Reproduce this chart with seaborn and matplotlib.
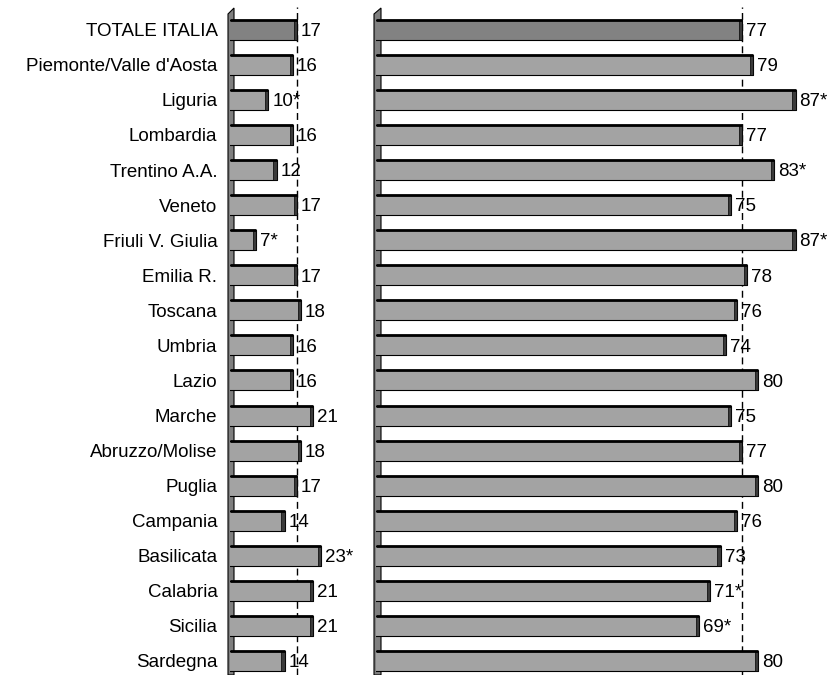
import seaborn as sns
import matplotlib.pyplot as plt
import numpy as np
from matplotlib.patches import Polygon

regioni = ["TOTALE ITALIA", "Piemonte/Valle d'Aosta", "Liguria", "Lombardia",
           "Trentino A.A.", "Veneto", "Friuli V. Giulia", "Emilia R.", "Toscana",
           "Umbria", "Lazio", "Marche", "Abruzzo/Molise", "Puglia", "Campania",
           "Basilicata", "Calabria", "Sicilia", "Sardegna"]
sinistra = [17, 16, 10, 16, 12, 17, 7, 17, 18, 16, 16, 21, 18, 17, 14, 23, 21, 21, 14]
etich_sx = ["17", "16", "10*", "16", "12", "17", "7*", "17", "18", "16", "16", "21",
            "18", "17", "14", "23*", "21", "21", "14"]
destra = [77, 79, 87, 77, 83, 75, 87, 78, 76, 74, 80, 75, 77, 80, 76, 73, 71, 69, 80]
etich_dx = ["77", "79", "87*", "77", "83*", "75", "87*", "78", "76", "74", "80", "75",
            "77", "80", "76", "73", "71*", "69*", "80"]

sns.set_style("white")
plt.rcParams['font.family'] = ['Liberation Sans', 'DejaVu Sans']
plt.rcParams['text.color'] = 'black'
plt.rcParams['ytick.color'] = 'black'

W, H = 832, 675
fig = plt.figure(figsize=(W / 100, H / 100), dpi=100)

# pannelli posizionati in pixel
top_px = 7
ax1 = fig.add_axes([230 / W, 0, (364 - 230) / W, 1 - top_px / H])
ax2 = fig.add_axes([376 / W, 0, (832 - 376) / W, 1 - top_px / H])

palette = {r: "#a3a3a3" for r in regioni}
palette["TOTALE ITALIA"] = "#828282"
h = 0.57
pos = np.arange(len(regioni))

pannelli = [(ax1, sinistra, etich_sx, (0.5, 33.6), 4.05),
            (ax2, destra, etich_dx, (8.6, 93.8), 5.35)]

for ax, vals, etich, xl, scala in pannelli:
    vals = np.array(vals, dtype=float)
    sns.barplot(x=vals, y=regioni, hue=regioni, palette=palette, orient="h",
                width=h, edgecolor="black", linewidth=0.8, legend=False,
                ax=ax, zorder=3)
    # faccia laterale scura (effetto 3D)
    w = 3.2 / scala
    ax.barh(pos, w, left=vals - w, height=h, color="#3a3a3a",
            edgecolor="black", linewidth=0.5, zorder=4)
    # bordo superiore spesso
    ax.hlines(pos - h / 2, xl[0], vals, color="black", lw=2.0, zorder=5)
    # linea tratteggiata al valore nazionale
    ax.axvline(vals[0], color="black", lw=1, ls=(0, (5, 3)), zorder=2)
    for p, v, t in zip(pos, vals, etich):
        ax.text(v + 4 / scala, p + 0.05, t, va="center", ha="left", fontsize=13.5,
                zorder=6)
    ax.set_xlim(*xl)
    ax.set_ylim(18.4, -0.65)
    ax.set_xticks([])
    ax.set_xlabel("")
    ax.set_ylabel("")
    for s in ax.spines.values():
        s.set_visible(False)
    ax.patch.set_alpha(0)

ax1.tick_params(axis="y", length=0, pad=9, labelsize=13.5)
ax2.set_yticks([])

# pareti grigie a sinistra di ogni pannello (dietro le barre)
for x0, x1 in [(228, 234), (374, 381)]:
    pts = [(x0, 0), (x0, H - 14), (x1, H - 8), (x1, 0)]
    wall = Polygon([(x / W, y / H) for x, y in pts], closed=True,
                   facecolor="#7f7f7f", edgecolor="black", lw=0.8,
                   transform=fig.transFigure, zorder=-1)
    fig.patches.append(wall)

fig.savefig("out.png", dpi=100)
